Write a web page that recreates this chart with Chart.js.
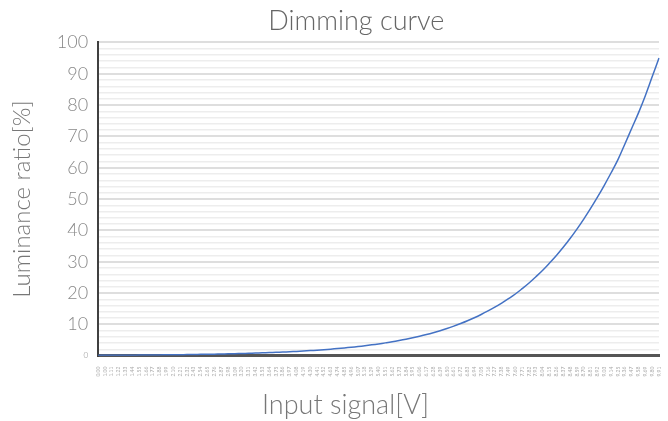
<!DOCTYPE html>
<html>
<head>
<meta charset="utf-8">
<script src="https://cdn.jsdelivr.net/npm/chart.js@4.4.1/dist/chart.umd.min.js"></script>
<style>
  html, body { margin: 0; padding: 0; background: #fff; }
  #wrap { width: 668px; height: 421px; position: relative; }
</style>
</head>
<body>
<div id="wrap"><canvas id="dimChart"></canvas></div>
<script>
// Input voltages (x labels)
const voltages = ['0.00', '1.00', '1.11', '1.22', '1.33', '1.44', '1.55', '1.66', '1.77', '1.88', '1.99',
  '2.10', '2.21', '2.32', '2.43', '2.54', '2.65', '2.76', '2.87', '2.98', '3.09', '3.20', '3.31', '3.42',
  '3.53', '3.64', '3.75', '3.86', '3.97', '4.08', '4.19', '4.30', '4.41', '4.52', '4.63', '4.74', '4.85',
  '4.96', '5.07', '5.18', '5.29', '5.40', '5.51', '5.62', '5.73', '5.84', '5.95', '6.06', '6.17', '6.28',
  '6.39', '6.50', '6.61', '6.72', '6.83', '6.94', '7.05', '7.16', '7.27', '7.38', '7.49', '7.60', '7.71',
  '7.82', '7.93', '8.04', '8.15', '8.26', '8.37', '8.48', '8.59', '8.70', '8.81', '8.92', '9.03', '9.14',
  '9.25', '9.36', '9.47', '9.58', '9.69', '9.80', '9.91'];

// Luminance ratio [%]
const luminance = [0.1, 0.13, 0.14, 0.15, 0.17, 0.18, 0.2, 0.22, 0.24, 0.26, 0.28,
  0.3, 0.33, 0.36, 0.39, 0.43, 0.46, 0.5, 0.55, 0.6, 0.65, 0.71, 0.77, 0.84,
  0.91, 0.99, 1.08, 1.17, 1.27, 1.38, 1.5, 1.63, 1.78, 1.93, 2.1, 2.28, 2.48,
  2.7, 2.93, 3.19, 3.47, 3.77, 4.1, 4.45, 4.84, 5.26, 5.72, 6.22, 6.76, 7.35,
  7.99, 8.68, 9.44, 10.26, 11.15, 12.12, 13.17, 14.3, 15.5, 16.8, 18.2, 19.7, 21.4,
  23.2, 25.2, 27.3, 29.6, 32, 34.6, 37.4, 40.4, 43.6, 47, 50.6, 54.4, 58.4,
  62.6, 67.5, 72.5, 77.5, 83, 89, 95];

const FONT = 'Lato, "Open Sans", sans-serif';
const NB = '\u00a0';

const ctx = document.getElementById('dimChart').getContext('2d');
new Chart(ctx, {
  type: 'line',
  data: {
    labels: voltages,
    datasets: [{
      label: 'Luminance',
      data: luminance,
      borderColor: '#4472c4',
      borderWidth: 1.5,
      pointRadius: 0,
      tension: 0.4,
      fill: false
    }]
  },
  options: {
    responsive: true,
    maintainAspectRatio: false,
    animation: false,
    layout: { padding: { left: 8, right: 0, top: 5, bottom: 0 } },
    plugins: {
      legend: { display: false },
      tooltip: { enabled: false },
      title: {
        display: true,
        text: NB.repeat(5) + 'Dimming curve',
        color: '#666',
        font: { family: FONT, size: 27, weight: 300 },
        padding: { top: 0, bottom: 5 }
      }
    },
    scales: {
      x: {
        grid: { display: false },
        border: { display: true, color: '#555', width: 3 },
        ticks: {
          autoSkip: false,
          maxRotation: 90,
          minRotation: 90,
          color: '#aaa',
          font: { family: FONT, size: 5 },
          padding: 3
        },
        title: {
          display: true,
          text: 'Input signal[V]' + NB.repeat(9),
          color: '#777',
          font: { family: FONT, size: 27, weight: 300 },
          padding: { top: 9, bottom: 0 }
        }
      },
      y: {
        min: 0,
        max: 100,
        border: { display: true, color: '#404040', width: 2 },
        grid: {
          drawTicks: false,
          color: (c) => (c.tick && c.tick.value % 10 === 0) ? '#dedede' : '#ededed',
          lineWidth: (c) => (c.tick && c.tick.value % 10 === 0) ? 2 : 1.5
        },
        ticks: {
          stepSize: 2,
          autoSkip: false,
          padding: 10,
          color: '#888',
          callback: (v) => (v % 10 === 0) ? v : '',
          font: (c) => ({
            family: FONT,
            weight: 300,
            size: (c.tick && c.tick.value === 0) ? 8 : 18
          })
        },
        title: {
          display: true,
          text: 'Luminance ratio[%]',
          color: '#777',
          font: { family: FONT, size: 24, weight: 300 },
          padding: { top: 0, bottom: 10 }
        }
      }
    }
  }
});
</script>
</body>
</html>
